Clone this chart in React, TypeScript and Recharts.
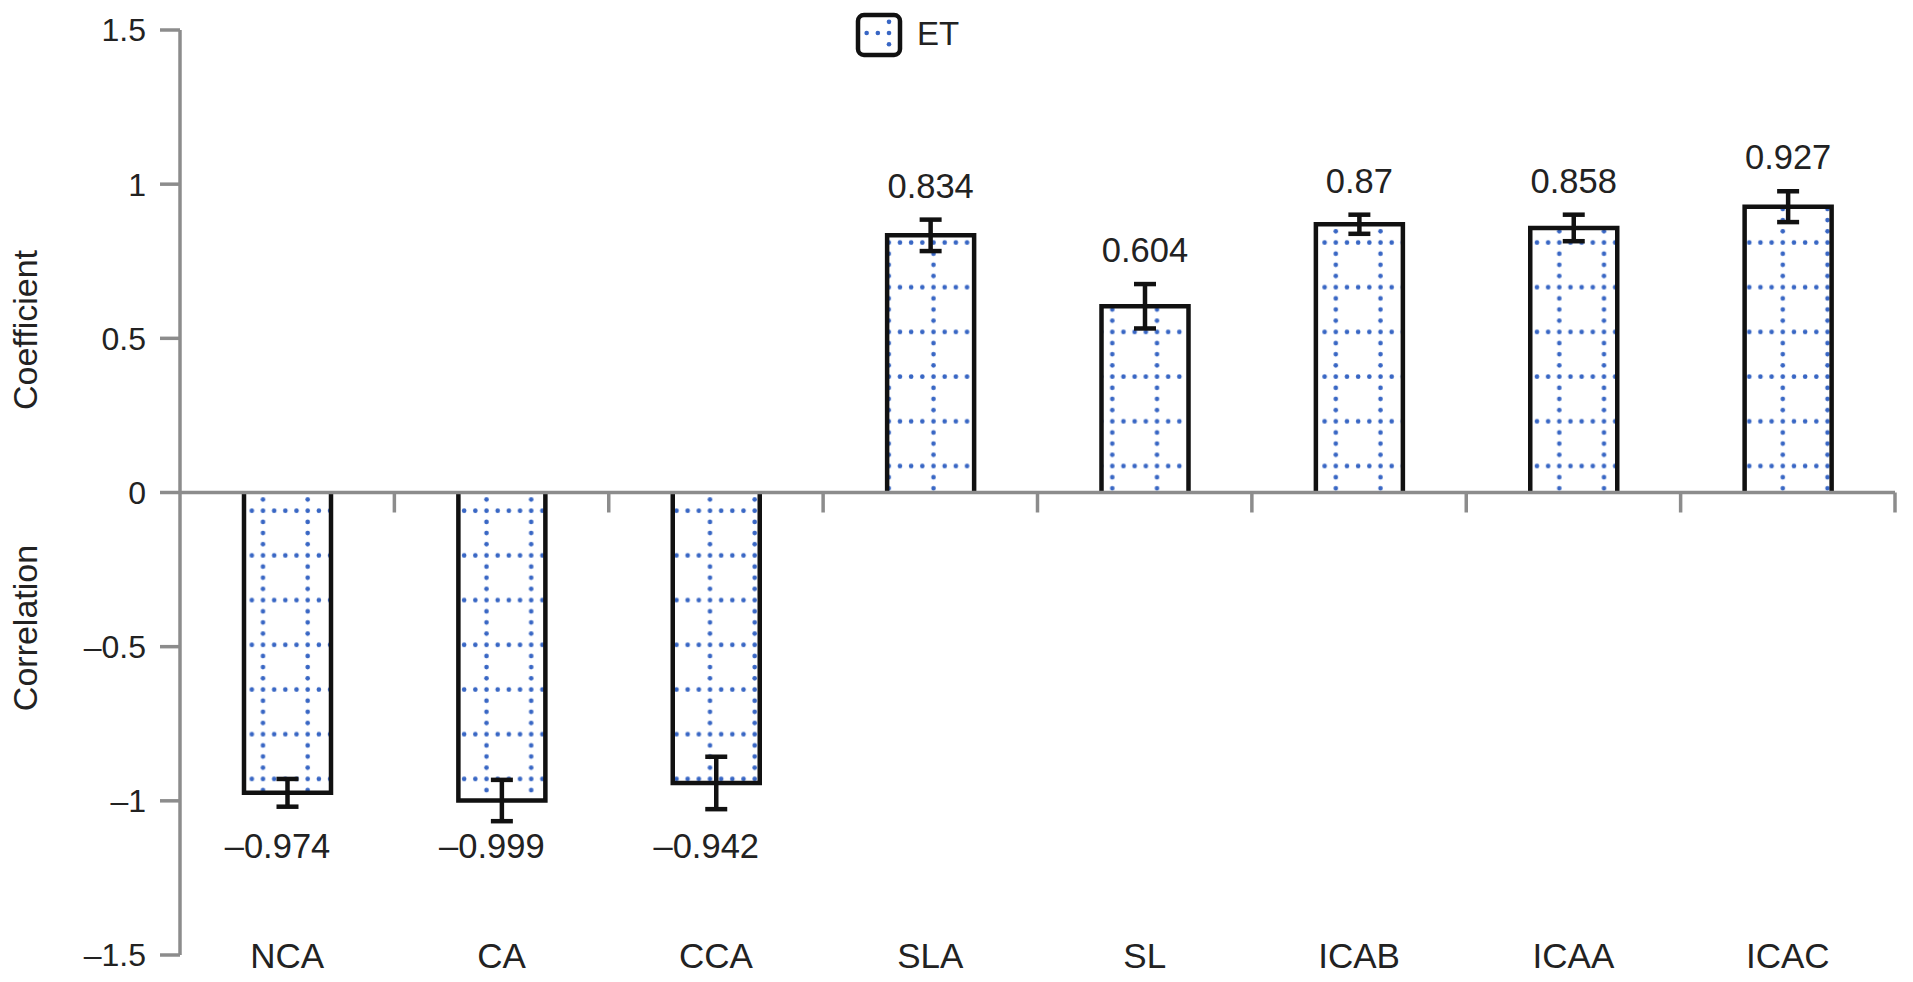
import React from 'react';
import { BarChart, Bar, XAxis, YAxis, ErrorBar, LabelList, ReferenceLine, Legend } from 'recharts';

const categories = ['NCA', 'CA', 'CCA', 'SLA', 'SL', 'ICAB', 'ICAA', 'ICAC'];
const coefValues = [-0.974, -0.999, -0.942, 0.834, 0.604, 0.87, 0.858, 0.927];
const errValues = [0.045, 0.067, 0.085, 0.051, 0.072, 0.031, 0.043, 0.05];
const valueLabels = ['–0.974', '–0.999', '–0.942', '0.834', '0.604', '0.87', '0.858', '0.927'];
const yTicks = [-1.5, -1, -0.5, 0, 0.5, 1, 1.5];
const yTickLabels = ['–1.5', '–1', '–0.5', '0', '0.5', '1', '1.5'];
const seriesName = 'ET';
const negLabelLevel = -1.185;

const data = categories.map((c, i) => ({ name: c, coef: coefValues[i], err: errValues[i] }));

const FONT = '"Liberation Sans", Arial, Helvetica, sans-serif';
const AXIS = '#8c8c8c';
const DOT = '#3866c4';
const TXT = '#222';
const DOT_R = 2.3;

const P = 44.7;
const S = P / 4;
const O = S / 2;

const BarShape = (props: any) => {
  const { x, y, width, height, payload } = props;
  const top = Math.min(y, y + height);
  const bottom = Math.max(y, y + height);
  const left = x;
  const right = x + width;
  const h = bottom - top;
  const neg = payload && payload.coef < 0;
  const d = neg
    ? `M${left},${top} L${left},${bottom} L${right},${bottom} L${right},${top}`
    : `M${left},${bottom} L${left},${top} L${right},${top} L${right},${bottom}`;
  return (
    <g>
      <rect x={left} y={top} width={width} height={h} fill="url(#etDots)" />
      <path d={d} fill="none" stroke="#111" strokeWidth={4.5} strokeLinejoin="miter" />
    </g>
  );
};

const ValueLabel = (props: any) => {
  const vb = props.viewBox && props.viewBox.width != null ? props.viewBox : props;
  const { x, y, width, height } = vb;
  const index = props.index;
  const value = coefValues[index];
  const top = Math.min(y, y + height);
  const bottom = Math.max(y, y + height);
  const ppu = (bottom - top) / Math.abs(value);
  const cx = x + width / 2;
  if (value >= 0) {
    const by = top - errValues[index] * ppu - 22;
    return (
      <text x={cx} y={by} textAnchor="middle" fontSize={34.5} fill={TXT} fontFamily={FONT}>
        {valueLabels[index]}
      </text>
    );
  }
  const by = top + Math.abs(negLabelLevel) * ppu;
  return (
    <text x={cx - 10} y={by} textAnchor="middle" fontSize={34.5} fill={TXT} fontFamily={FONT}>
      {valueLabels[index]}
    </text>
  );
};

const CatTick = (props: any) => {
  const { x, y, payload } = props;
  return (
    <text x={x} y={y + 13} textAnchor="middle" fontSize={35} fill={TXT} fontFamily={FONT}>
      {payload.value}
    </text>
  );
};

const ZeroLine = (props: any) => {
  const { x1, y1, x2, y2 } = props;
  const n = categories.length;
  const step = (x2 - x1) / n;
  const ticks = [];
  for (let i = 1; i <= n; i++) {
    const tx = x1 + i * step;
    ticks.push(<line key={i} x1={tx} y1={y1} x2={tx} y2={y1 + 20} stroke={AXIS} strokeWidth={3.5} />);
  }
  return (
    <g>
      <line x1={x1} y1={y1} x2={x2} y2={y2} stroke={AXIS} strokeWidth={3.5} />
      {ticks}
    </g>
  );
};

const YLabel = (props: any) => {
  const vb = props.viewBox || { x: 0, y: 30, width: 180, height: 925 };
  const lx = vb.x + 37;
  const y1 = vb.y + 300;
  const y2 = vb.y + 598;
  return (
    <g>
      <text x={lx} y={y1} transform={`rotate(-90 ${lx} ${y1})`} textAnchor="middle" fontSize={34} fill={TXT} fontFamily={FONT}>
        Coefficient
      </text>
      <text x={lx} y={y2} transform={`rotate(-90 ${lx} ${y2})`} textAnchor="middle" fontSize={34} fill={TXT} fontFamily={FONT}>
        Correlation
      </text>
    </g>
  );
};

const LegendContent = () => {
  const dots = [];
  const bx = 8, by = 7, bw = 42, bh = 40;
  const vx = bx + 31, hy = by + 18;
  for (let k = 0; k < 3; k++) dots.push(<circle key={'h' + k} cx={vx - k * S} cy={hy} r={DOT_R} fill={DOT} />);
  dots.push(<circle key="v1" cx={vx} cy={hy - S} r={DOT_R} fill={DOT} />);
  dots.push(<circle key="v2" cx={vx} cy={hy + S} r={DOT_R} fill={DOT} />);
  return (
    <svg width={130} height={52} style={{ display: 'block', overflow: 'visible' }}>
      <rect x={bx} y={by} width={bw} height={bh} rx={6} ry={6} fill="#fff" />
      {dots}
      <rect x={bx} y={by} width={bw} height={bh} rx={6} ry={6} fill="none" stroke="#111" strokeWidth={4.5} />
      <text x={67} y={37} fontSize={33} fill={TXT} fontFamily={FONT}>{seriesName}</text>
    </svg>
  );
};

export default function App() {
  return (
    <div style={{ position: 'absolute', left: 0, top: 0, width: 1913, height: 982, background: '#fff', fontFamily: FONT }}>
      <BarChart
        width={1913}
        height={982}
        data={data}
        margin={{ top: 30, right: 18, bottom: 0, left: 0 }}
        barSize={87}
      >
        <defs>
          <pattern id="etDots" patternUnits="userSpaceOnUse" x={263 - O} y={510.7 - O} width={P} height={P}>
            <rect x={0} y={0} width={P} height={P} fill="#fff" />
            {[0, 1, 2, 3].map((k) => (
              <circle key={'h' + k} cx={O + k * S} cy={O} r={DOT_R} fill={DOT} />
            ))}
            {[1, 2, 3].map((k) => (
              <circle key={'v' + k} cx={O} cy={O + k * S} r={DOT_R} fill={DOT} />
            ))}
          </pattern>
        </defs>
        <XAxis
          dataKey="name"
          axisLine={false}
          tickLine={false}
          height={27}
          tickSize={0}
          tickMargin={0}
          interval={0}
          tick={<CatTick />}
        />
        <YAxis
          type="number"
          domain={[-1.5, 1.5]}
          ticks={yTicks}
          interval={0}
          width={180}
          tickSize={20}
          tickMargin={14}
          axisLine={{ stroke: AXIS, strokeWidth: 3.5 }}
          tickLine={{ stroke: AXIS, strokeWidth: 3.5 }}
          tick={{ fontSize: 32, fill: TXT, fontFamily: FONT }}
          tickFormatter={(v: number) => yTickLabels[yTicks.indexOf(v)]}
          label={{ content: <YLabel /> } as any}
        />
        <Legend
          verticalAlign="middle"
          align="center"
          layout="horizontal"
          content={<LegendContent />}
          wrapperStyle={{ position: 'absolute', left: 850, top: 8, width: 130, height: 52 }}
        />
        <Bar dataKey="coef" name={seriesName} isAnimationActive={false} shape={<BarShape />}>
          <ErrorBar dataKey="err" width={11} strokeWidth={4.5} stroke="#111" direction="y" />
          <LabelList dataKey="coef" content={<ValueLabel />} />
        </Bar>
        <ReferenceLine y={0} shape={<ZeroLine />} />
      </BarChart>
    </div>
  );
}
